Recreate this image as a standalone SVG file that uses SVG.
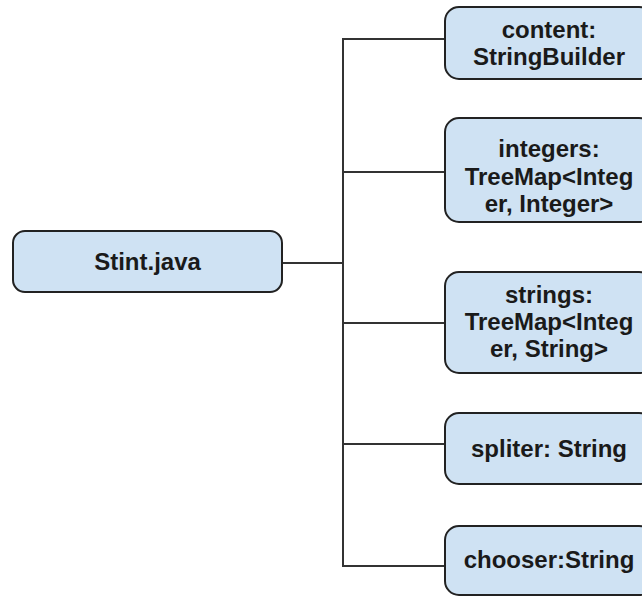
<svg xmlns="http://www.w3.org/2000/svg" width="642" height="598" viewBox="0 0 642 598">
<style>
.box{fill:#cfe2f3;stroke:#222;stroke-width:2}
.t{font-family:"Liberation Sans",Arial,sans-serif;font-weight:bold;font-size:24px;fill:#1a1a1a;text-anchor:middle}
.c{fill:none;stroke:#333;stroke-width:2}
</style>
<rect width="642" height="598" fill="#fff"/>
<g id="connectors">
<path class="c" d="M282,263 H343 M445,39 H343 V566 H445 M343,172 H445 M343,323 H445 M343,444 H445"/>
</g>
<g id="stint">
<rect class="box" x="13" y="231" width="269" height="61" rx="12"/>
<text class="t" x="147.5" y="270">Stint.java</text>
</g>
<g id="content">
<rect class="box" x="445" y="7" width="208" height="72" rx="14"/>
<text class="t" x="549" y="38">content:</text>
<text class="t" x="549" y="65">StringBuilder</text>
</g>
<g id="integers">
<rect class="box" x="445" y="118" width="208" height="104" rx="14"/>
<text class="t" x="549" y="157">integers:</text>
<text class="t" x="549" y="185">TreeMap&lt;Integ</text>
<text class="t" x="549" y="212">er, Integer&gt;</text>
</g>
<g id="strings">
<rect class="box" x="445" y="272" width="208" height="101" rx="14"/>
<text class="t" x="549" y="303">strings:</text>
<text class="t" x="549" y="330">TreeMap&lt;Integ</text>
<text class="t" x="549" y="357">er, String&gt;</text>
</g>
<g id="spliter">
<rect class="box" x="445" y="413" width="208" height="71" rx="14"/>
<text class="t" x="549" y="457">spliter: String</text>
</g>
<g id="chooser">
<rect class="box" x="445" y="526" width="208" height="69" rx="14"/>
<text class="t" x="549" y="568">chooser:String</text>
</g>
</svg>
